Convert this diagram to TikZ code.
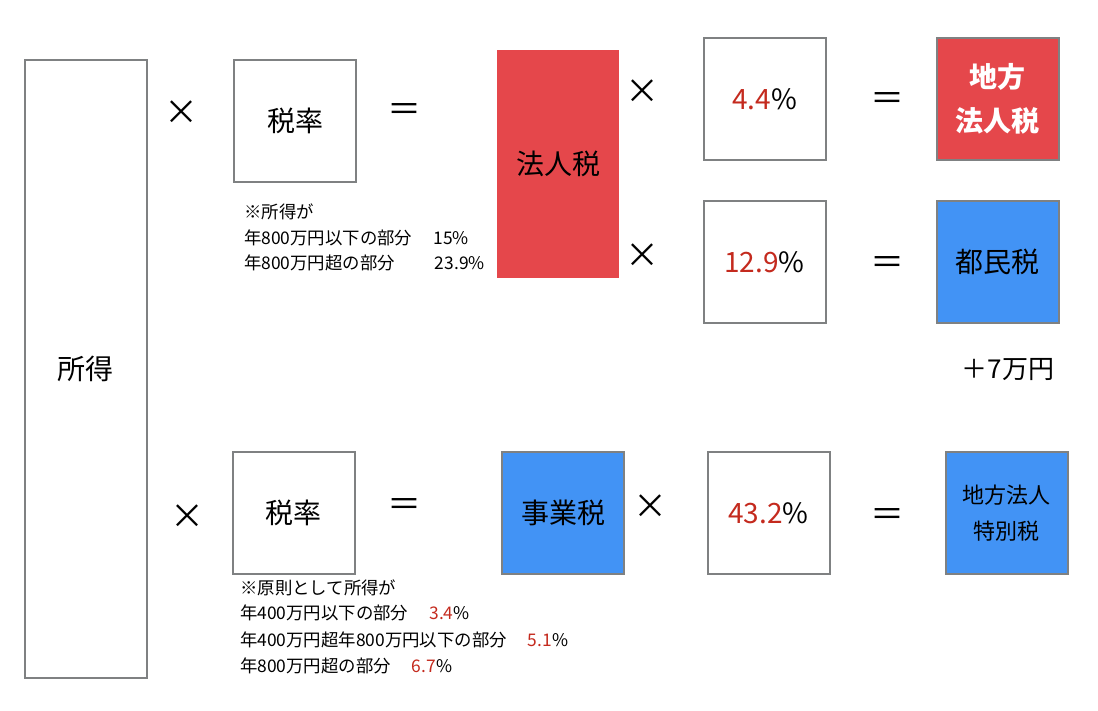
\documentclass[tikz,border=0pt]{standalone}
\usepackage{fontspec}
\setmainfont{Noto Sans CJK JP}
\definecolor{taxred}{HTML}{E5474B}
\definecolor{taxblue}{HTML}{4293F5}
\definecolor{boxgray}{HTML}{7F8182}
\definecolor{numred}{HTML}{C42A1E}
\newcommand{\rnum}[1]{\textcolor{numred}{#1}}
\tikzset{
  box/.style={draw=boxgray, line width=2pt, minimum width=122pt, minimum height=122pt,
    inner sep=0pt, font=\fontsize{28}{36}\selectfont},
  redbox/.style={box, fill=taxred},
  bluebox/.style={box, fill=taxblue},
  op/.style={inner sep=0pt, font=\fontsize{34}{34}\selectfont},
  note/.style={anchor=west, inner sep=0pt, font=\fontsize{17.4}{20}\selectfont},
}
\begin{document}
\begin{tikzpicture}[x=1pt,y=-1pt]
    \useasboundingbox (0,0) rectangle (1098,710);
    % income and first rate
    \node[box, minimum height=618pt] (income) at (85.5,369) {所得};
    \node[op] (times1) at (181,113) {×};
    \node[box] (rate1) at (295,121) {税率};
    \node[op] (eq1) at (404,113) {＝};
    \node[note] (note1) at (244,212) {※所得が};
    \node[note] (note2) at (244,238) {年800万円以下の部分\hspace{21pt}15\%};
    \node[note] (note3) at (244,263) {年800万円超の部分\hspace{40pt}23.9\%};
    % corporate tax
    \node[redbox, draw=none, minimum height=228pt] (corp) at (558,164) {法人税};
    \node[op] (times2) at (642,92) {×};
    \node[box] (pct1) at (764.5,99) {\rnum{4.4}\%};
    \node[op] (eq2) at (887,102) {＝};
    \node[redbox, text=white, align=center, font=\fontsize{28}{44}\selectfont\bfseries] (local) at (997.5,99) {地方\\法人税};
    \node[op] (times3) at (642,256) {×};
    \node[box] (pct2) at (764.5,262) {\rnum{12.9}\%};
    \node[op] (eq3) at (887,266) {＝};
    \node[bluebox] (metro) at (997.5,262) {都民税};
    \node[font=\fontsize{26}{30}\selectfont] (plus) at (1008,370) {＋7万円};
    % business tax
    \node[op] (times4) at (187,517) {×};
    \node[box] (rate2) at (293.5,513) {税率};
    \node[op] (eq4) at (404,507) {＝};
    \node[note] (note4) at (240,588) {※原則として所得が};
    \node[note] (note5) at (240,613) {年400万円以下の部分\hspace{21pt}\rnum{3.4}\%};
    \node[note] (note6) at (240,640) {年400万円超年800万円以下の部分\hspace{21pt}\rnum{5.1}\%};
    \node[note] (note7) at (240,666) {年800万円超の部分\hspace{21pt}\rnum{6.7}\%};
    \node[bluebox] (biz) at (563,513) {事業税};
    \node[op] (times5) at (650,507) {×};
    \node[box] (pct3) at (768.5,513) {\rnum{43.2}\%};
    \node[op] (eq5) at (887,517) {＝};
    \node[bluebox, align=center, font=\fontsize{22}{36}\selectfont] (special) at (1006.5,513) {地方法人\\特別税};
\end{tikzpicture}
\end{document}
